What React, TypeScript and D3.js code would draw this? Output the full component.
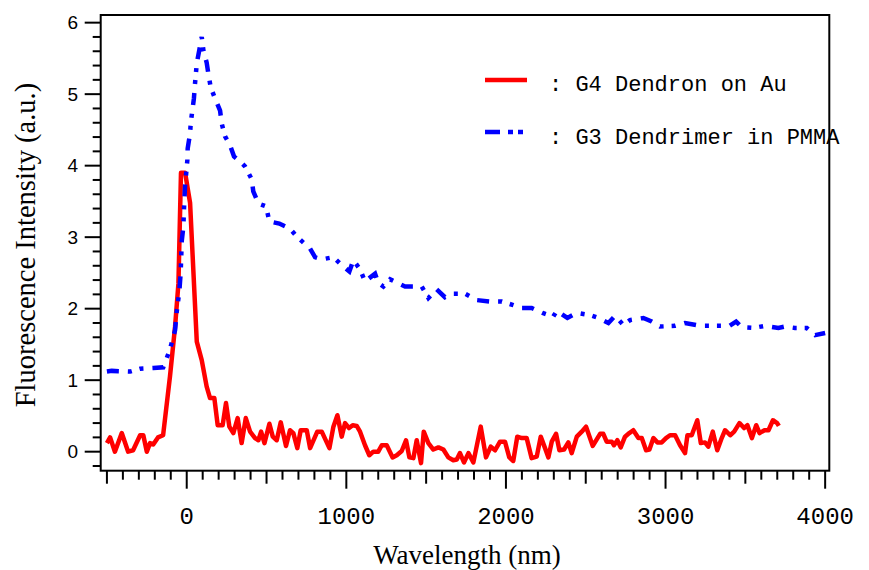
import React, { useRef, useEffect } from "react";
import * as d3 from "d3";

// G4 Dendron on Au (red, solid)
const redX = [
  -500, -480, -450, -407, -367, -336, -292, -272, -250, -230, -210, -180, -148, -105, -73, -52, -36, -10, 21, 63,
  94, 125, 146, 173, 194, 225, 246, 267, 292, 319, 344, 370, 397, 428, 449, 466, 487, 518, 539, 564,
  589, 622, 647, 668, 693, 714, 752, 773, 818, 846, 894, 919, 944, 971, 992, 1017, 1040, 1065, 1086, 1117,
  1144, 1169, 1200, 1222, 1253, 1290, 1316, 1347, 1374, 1395, 1420, 1441, 1468, 1485, 1514, 1545, 1577, 1608, 1639, 1670,
  1692, 1712, 1737, 1765, 1796, 1842, 1875, 1905, 1932, 1963, 1994, 2021, 2046, 2071, 2099, 2130, 2161, 2193, 2218, 2245,
  2266, 2287, 2314, 2335, 2364, 2391, 2412, 2444, 2475, 2502, 2544, 2590, 2610, 2631, 2663, 2677, 2698, 2719, 2746, 2773,
  2798, 2830, 2851, 2878, 2899, 2924, 2949, 2976, 3003, 3028, 3060, 3091, 3122, 3137, 3164, 3199, 3221, 3247, 3268, 3296,
  3324, 3352, 3373, 3405, 3430, 3463, 3492, 3513, 3541, 3568, 3589, 3620, 3645, 3673, 3699, 3710,
];
const redY = [
  0.12, 0.2, 0.0, 0.26, 0.0, 0.02, 0.23, 0.23, 0.0, 0.12, 0.1, 0.2, 0.23, 1.05, 1.75, 2.35, 3.9, 3.9, 3.48, 1.54,
  1.28, 0.91, 0.75, 0.75, 0.37, 0.37, 0.68, 0.35, 0.26, 0.47, 0.12, 0.47, 0.28, 0.19, 0.16, 0.28, 0.12, 0.39, 0.21, 0.16,
  0.41, 0.08, 0.3, 0.26, 0.05, 0.3, 0.3, 0.05, 0.28, 0.28, 0.05, 0.35, 0.51, 0.21, 0.4, 0.33, 0.37, 0.36, 0.28, 0.09,
  -0.05, 0.0, 0.0, 0.09, 0.09, -0.08, -0.05, 0.01, 0.16, -0.08, -0.09, 0.16, -0.16, 0.28, 0.12, 0.03, 0.06, 0.03, -0.08, -0.12,
  -0.11, -0.02, -0.15, -0.02, -0.15, 0.35, -0.08, 0.07, 0.02, 0.14, 0.14, -0.08, -0.13, 0.21, 0.19, 0.19, -0.09, -0.07, 0.21, 0.05,
  -0.08, 0.14, 0.25, 0.02, 0.03, 0.13, -0.02, 0.21, 0.28, 0.35, 0.08, 0.25, 0.25, 0.14, 0.14, 0.09, 0.16, 0.06, 0.21, 0.26,
  0.3, 0.19, 0.19, 0.02, 0.03, 0.19, 0.13, 0.13, 0.19, 0.23, 0.23, 0.09, -0.02, 0.23, 0.23, 0.44, 0.12, 0.13, 0.07, 0.28,
  0.02, 0.19, 0.3, 0.23, 0.28, 0.4, 0.33, 0.37, 0.19, 0.37, 0.26, 0.3, 0.3, 0.44, 0.4, 0.36,
];

// G3 Dendrimer in PMMA (blue, dash-dot-dot)
const blueX = [
  -500, -470, -355, -292, -209, -147, -115, -94, -73, -63, -46, -38, -31, -21, -17, -11, 4, 6, 21, 25,
  35, 45, 52, 63, 79, 94, 104, 125, 136, 150, 177, 209, 219, 240, 271, 296, 334, 365, 407, 417,
  449, 497, 518, 580, 647, 689, 773, 804, 846, 919, 971, 1019, 1044, 1086, 1117, 1180, 1200, 1232, 1274, 1368,
  1472, 1514, 1566, 1618, 1670, 1744, 1817, 1900, 1974, 2046, 2099, 2161, 2230, 2297, 2318, 2385, 2444, 2527, 2579, 2642,
  2684, 2736, 2777, 2861, 2913, 2965, 3060, 3122, 3216, 3331, 3400, 3442, 3478, 3550, 3624, 3707, 3749, 3811, 3885, 3937,
  4000,
];
const blueY = [
  1.12, 1.13, 1.12, 1.16, 1.17, 1.18, 1.37, 1.52, 1.7, 1.95, 2.25, 2.5, 2.95, 3.15, 3.4, 3.7, 4.08, 4.24, 4.45, 4.59,
  4.77, 4.94, 5.15, 5.43, 5.62, 5.8, 5.62, 5.44, 5.28, 5.1, 4.94, 4.77, 4.59, 4.41, 4.29, 4.13, 4.06, 3.99, 3.81, 3.64,
  3.47, 3.43, 3.22, 3.19, 3.12, 3.01, 2.84, 2.72, 2.69, 2.72, 2.61, 2.52, 2.68, 2.55, 2.38, 2.49, 2.36, 2.31, 2.41, 2.31,
  2.31, 2.15, 2.27, 2.16, 2.21, 2.21, 2.12, 2.1, 2.1, 2.05, 2.01, 2.01, 1.94, 1.89, 1.97, 1.87, 1.94, 1.91, 1.87, 1.8,
  1.9, 1.77, 1.84, 1.87, 1.82, 1.75, 1.76, 1.8, 1.76, 1.76, 1.76, 1.82, 1.74, 1.73, 1.76, 1.73, 1.75, 1.73, 1.73, 1.63,
  1.66,
];

const xTickLabels = [0, 1000, 2000, 3000, 4000];
const yTickLabels = [0, 1, 2, 3, 4, 5, 6];
const legendNames = [": G4 Dendron on Au", ": G3 Dendrimer in PMMA"];

const W = 869;
const H = 570;
const blueDash = "12,9,4,8,4,9";

const App = () => {
  const svgRef = useRef<SVGSVGElement>(null);

  useEffect(() => {
    const svg = d3.select(svgRef.current);
    svg.selectAll("*").remove();

    const left = 100.7, right = 829.3, top = 15, bottom = 470.7;
    const x = d3.scaleLinear().domain([-539, 4026]).range([left, right]);
    const y = d3.scaleLinear().domain([-0.266, 6.107]).range([bottom, top]);

    const line = d3
      .line<[number, number]>()
      .x((d) => x(d[0]))
      .y((d) => y(d[1]));

    const red = redX.map((v, i) => [v, redY[i]] as [number, number]);
    const blue = blueX.map((v, i) => [v, blueY[i]] as [number, number]);

    svg
      .append("path")
      .attr("d", line(red))
      .attr("fill", "none")
      .attr("stroke", "#ff0000")
      .attr("stroke-width", 4.5)
      .attr("stroke-linejoin", "round");

    svg
      .append("path")
      .attr("d", line(blue))
      .attr("fill", "none")
      .attr("stroke", "#0000ff")
      .attr("stroke-width", 4.5)
      .attr("stroke-dasharray", blueDash);

    // frame
    svg
      .append("rect")
      .attr("x", left)
      .attr("y", top)
      .attr("width", right - left)
      .attr("height", bottom - top)
      .attr("fill", "none")
      .attr("stroke", "black")
      .attr("stroke-width", 2);

    // x ticks: minor every 100, medium at 500s, major at 1000s
    const xt = d3.range(-500, 4001, 100);
    svg
      .append("g")
      .selectAll("line")
      .data(xt)
      .enter()
      .append("line")
      .attr("x1", (d) => x(d))
      .attr("x2", (d) => x(d))
      .attr("y1", bottom)
      .attr("y2", (d) => bottom + (d % 1000 === 0 ? 18 : d % 500 === 0 ? 13 : 9))
      .attr("stroke", "black")
      .attr("stroke-width", 2);

    svg
      .append("g")
      .selectAll("text")
      .data(xTickLabels)
      .enter()
      .append("text")
      .attr("x", (d) => x(d))
      .attr("y", 524)
      .attr("text-anchor", "middle")
      .attr("font-family", "'Liberation Mono', monospace")
      .attr("font-size", 24)
      .text((d) => d);

    // y ticks: minor every 0.2, major at integers
    const yt = d3.range(-0.2, 6.01, 0.2).map((d) => Math.round(d * 10) / 10);
    svg
      .append("g")
      .selectAll("line")
      .data(yt)
      .enter()
      .append("line")
      .attr("x1", left)
      .attr("x2", (d) => left - (Number.isInteger(d) ? 16 : 8))
      .attr("y1", (d) => y(d))
      .attr("y2", (d) => y(d))
      .attr("stroke", "black")
      .attr("stroke-width", 2);

    svg
      .append("g")
      .selectAll("text")
      .data(yTickLabels)
      .enter()
      .append("text")
      .attr("x", 78)
      .attr("y", (d) => y(d))
      .attr("dy", "0.35em")
      .attr("text-anchor", "end")
      .attr("font-family", "'Liberation Sans', sans-serif")
      .attr("font-size", 19)
      .text((d) => d);

    // axis titles
    svg
      .append("text")
      .attr("x", 467)
      .attr("y", 564)
      .attr("text-anchor", "middle")
      .attr("font-family", "'Liberation Serif', serif")
      .attr("font-size", 27)
      .text("Wavelength (nm)");

    svg
      .append("text")
      .attr("transform", "translate(35,245) rotate(-90)")
      .attr("text-anchor", "middle")
      .attr("font-family", "'Liberation Serif', serif")
      .attr("font-size", 28.5)
      .text("Fluorescence Intensity (a.u.)");

    // legend
    svg
      .append("line")
      .attr("x1", 485).attr("x2", 527)
      .attr("y1", 80).attr("y2", 80)
      .attr("stroke", "#ff0000")
      .attr("stroke-width", 4.5);
    svg
      .append("line")
      .attr("x1", 485).attr("x2", 525)
      .attr("y1", 132).attr("y2", 132)
      .attr("stroke", "#0000ff")
      .attr("stroke-width", 4.5)
      .attr("stroke-dasharray", "15,8,5,5,5,8");

    svg
      .append("g")
      .selectAll("text")
      .data(legendNames)
      .enter()
      .append("text")
      .attr("x", 549)
      .attr("y", (d, i) => 90.5 + i * 53.5)
      .attr("font-family", "'Liberation Mono', monospace")
      .attr("font-size", 22)
      .text((d) => d);

    return () => {
      svg.selectAll("*").remove();
    };
  }, []);

  return (
    <svg
      ref={svgRef}
      width={W}
      height={H}
      style={{ position: "absolute", left: 0, top: 0, background: "white" }}
    />
  );
};

export default App;
